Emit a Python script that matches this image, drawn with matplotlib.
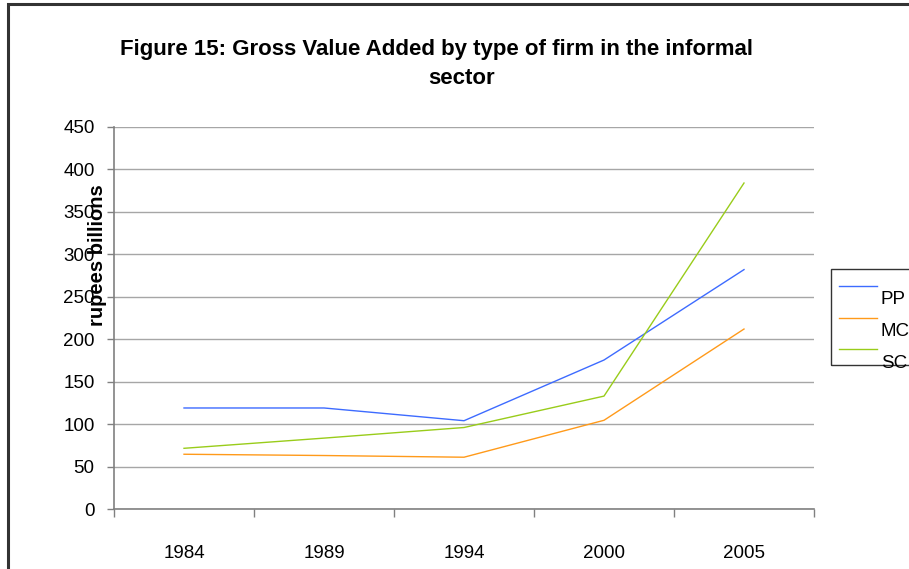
import matplotlib
matplotlib.use("Agg")
import matplotlib.pyplot as plt
from matplotlib.patches import Rectangle
from matplotlib.lines import Line2D
import numpy as np

plt.rcParams['font.family'] = ['Liberation Sans', 'DejaVu Sans']

years = ['1984', '1989', '1994', '2000', '2005']
pp = [119, 119, 104, 175.5, 282]
mc = [64.5, 63, 61, 104.5, 212]
sc = [71.5, 83.5, 96, 133, 384]

series = [('PP', pp, '#3d6bff'), ('MC', mc, '#ff9a1a'), ('SC', sc, '#99cc1a')]

W, H = 909, 569
fig = plt.figure(figsize=(W / 100, H / 100), dpi=100)
fig.patch.set_facecolor('white')

# outer border (cropped at right and bottom)
fig.add_artist(Rectangle((8 / W, -0.1), 1.2, 1.1 - 4 / H, transform=fig.transFigure,
                         fill=False, edgecolor='#333333', linewidth=2.2))

ax = fig.add_axes([114 / W, (H - 509) / H, 700 / W, 382 / H])

x = np.arange(1, len(years) + 1)
for name, vals, col in series:
    ax.plot(x, vals, color=col, linewidth=1.0)

ax.set_xlim(0.5, len(years) + 0.5)
ax.set_ylim(0, 450)
ax.set_yticks(np.arange(0, 451, 50))
ax.yaxis.grid(True, color='#a6a6a6', linewidth=1.0)
ax.set_axisbelow(True)

# category boundaries as major ticks, labels at the centres
ax.set_xticks(np.arange(0.5, len(years) + 1, 1.0))
ax.set_xticklabels([])
ax.set_xticks(x, minor=True)
ax.set_xticklabels(years, minor=True)
ax.tick_params(axis='x', which='major', direction='out', length=6, color='#808080', width=1)
ax.tick_params(axis='x', which='minor', length=0, pad=26, labelsize=13.5)
ax.tick_params(axis='y', direction='out', length=5, color='#808080', width=1, labelsize=13.5, pad=9)

for s in ['top', 'right']:
    ax.spines[s].set_visible(False)
for s in ['left', 'bottom']:
    ax.spines[s].set_color('#808080')
    ax.spines[s].set_linewidth(1.2)

# label sits over the tick labels, as in the source chart
ax.set_ylabel('rupees billions', fontsize=14.5, fontweight='bold')
ax.yaxis.set_label_coords((107 - 114) / 700, (509 - 255) / 382)

# title (two wrapped lines)
fig.text(436 / W, 1 - 49 / H, 'Figure 15: Gross Value Added by type of firm in the informal',
         ha='center', va='center', fontsize=16, fontweight='bold')
fig.text(462 / W, 1 - 79 / H, 'sector', ha='center', va='center', fontsize=16, fontweight='bold')

# legend box (cropped at the right)
fig.add_artist(Rectangle((831 / W, 1 - 365 / H), 0.2, (365 - 269) / H, transform=fig.transFigure,
                         fill=False, edgecolor='#333333', linewidth=1.0))
line_y = [285.5, 317.5, 349]
text_y = [300, 331, 364]
for (name, vals, col), ly, ty in zip(series, line_y, text_y):
    fig.add_artist(Line2D([839 / W, 877 / W], [1 - ly / H, 1 - ly / H], transform=fig.transFigure,
                          color=col, linewidth=1.0))
    fig.text(881 / W, 1 - ty / H, name, ha='left', va='center', fontsize=13.5)

fig.savefig('out.png', dpi=100)
